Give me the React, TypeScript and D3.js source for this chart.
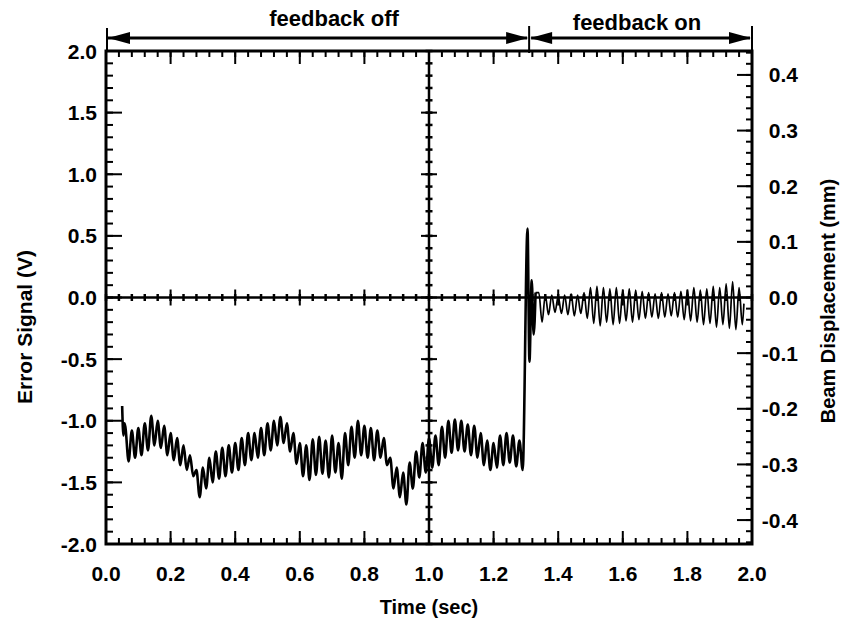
import React from 'react';
import * as d3 from 'd3';

const W = 843;
const H = 621;

// tick labels
const xTickLabels = ['0.0', '0.2', '0.4', '0.6', '0.8', '1.0', '1.2', '1.4', '1.6', '1.8', '2.0'];
const leftTickLabels = ['-2.0', '-1.5', '-1.0', '-0.5', '0.0', '0.5', '1.0', '1.5', '2.0'];
const rightTickLabels = ['-0.4', '-0.3', '-0.2', '-0.1', '0.0', '0.1', '0.2', '0.3', '0.4'];

// error signal (V): one peak + one trough per ~20 ms cycle
const leadIn: [number, number][] = [[0.05, -0.88], [0.054, -1.12], [0.057, -1.02]];
const offStart = 0.06;
const cycle = 0.02;
const offPeaks = [
  -1.05, -1.08, -1.06, -1.02, -0.96, -1.0, -1.04, -1.1, -1.14, -1.2,
  -1.28, -1.4, -1.38, -1.3, -1.25, -1.22, -1.2, -1.18, -1.14, -1.1,
  -1.1, -1.06, -1.02, -1.0, -0.97, -1.02, -1.1, -1.18, -1.2, -1.15,
  -1.13, -1.16, -1.12, -1.18, -1.1, -1.05, -1.0, -1.04, -1.06, -1.08,
  -1.14, -1.3, -1.38, -1.42, -1.34, -1.25, -1.18, -1.14, -1.12, -1.05,
  -1.0, -0.99, -1.0, -1.03, -1.04, -1.1, -1.16, -1.18, -1.12, -1.1,
  -1.12, -1.16,
];
const offTroughs = [
  -1.33, -1.3, -1.28, -1.24, -1.2, -1.22, -1.28, -1.32, -1.36, -1.4,
  -1.45, -1.62, -1.55, -1.5, -1.47, -1.45, -1.42, -1.4, -1.36, -1.32,
  -1.3, -1.28, -1.24, -1.2, -1.18, -1.25, -1.35, -1.45, -1.48, -1.44,
  -1.43, -1.46, -1.42, -1.47, -1.36, -1.3, -1.28, -1.3, -1.32, -1.3,
  -1.36, -1.55, -1.62, -1.68, -1.55, -1.46, -1.42, -1.38, -1.36, -1.3,
  -1.26, -1.24, -1.25, -1.28, -1.3, -1.36, -1.4, -1.38, -1.36, -1.34,
  -1.37, -1.4,
];
const transient: [number, number][] = [
  [1.305, 0.56], [1.311, -0.52], [1.318, 0.14], [1.324, -0.3], [1.33, 0.04],
];
const onStart = 1.34;
const onPeaks = [
  0.04, 0.02, 0.02, 0.01, 0.02, 0.03, 0.02, 0.04, 0.08, 0.09,
  0.08, 0.07, 0.08, 0.06, 0.07, 0.06, 0.05, 0.04, 0.03, 0.04,
  0.03, 0.04, 0.05, 0.06, 0.08, 0.06, 0.07, 0.09, 0.08, 0.11,
  0.13, 0.08,
];
const onTroughs = [
  -0.2, -0.14, -0.12, -0.13, -0.14, -0.15, -0.13, -0.17, -0.21, -0.23,
  -0.2, -0.22, -0.21, -0.19, -0.2, -0.18, -0.17, -0.16, -0.17, -0.16,
  -0.15, -0.16, -0.18, -0.19, -0.2, -0.22, -0.21, -0.24, -0.22, -0.25,
  -0.26, -0.22,
];
const tail: [number, number][] = [[1.975, -0.05]];

function cyclesToPoints(start: number, peaks: number[], troughs: number[]): [number, number][] {
  const pts: [number, number][] = [];
  peaks.forEach((p, i) => {
    pts.push([start + i * cycle, p]);
    pts.push([start + i * cycle + cycle / 2, troughs[i]]);
  });
  return pts;
}

const left = 106;
const right = 752;
const top = 51;
const bottom = 544;

const x = d3.scaleLinear().domain([0, 2]).range([left, right]);
const yL = d3.scaleLinear().domain([-2, 2]).range([bottom, top]);
const yR = d3.scaleLinear().domain([-0.443, 0.443]).range([bottom, top]);

const font = '"Liberation Sans", Arial, Helvetica, sans-serif';

export default function App() {
  const offPts = [...leadIn, ...cyclesToPoints(offStart, offPeaks, offTroughs), ...transient];
  const onPts = [transient[transient.length - 1], ...cyclesToPoints(onStart, onPeaks, onTroughs), ...tail];
  const line = d3
    .line<[number, number]>()
    .x((d) => x(d[0]))
    .y((d) => yL(d[1]))
    .curve(d3.curveMonotoneX);

  const xMinor = d3.range(0, 2.0001, 0.04);
  const xMajor = xTickLabels.map(Number);
  const lMinor = d3.range(-2, 2.0001, 0.1);
  const lMajor = leftTickLabels.map(Number);
  const rMinor = d3.range(-0.44, 0.4401, 0.02);
  const rMajor = rightTickLabels.map(Number);

  const tk = { stroke: '#000', strokeWidth: 2 };
  const zeroY = yL(0);
  const midX = x(1);

  const sepX = x(1.31);
  const arrowY = 38;
  const head = (x0: number, dir: number) =>
    `M${x0},${arrowY} L${x0 + dir * 22},${arrowY - 6} L${x0 + dir * 22},${arrowY + 6} Z`;

  return (
    <div style={{ position: 'absolute', left: 0, top: 0 }}>
      <svg width={W} height={H} style={{ display: 'block', background: '#fff' }}>
        {/* data */}
        <path d={line(offPts) || ''} fill="none" stroke="#000" strokeWidth={2.6} strokeLinejoin="round" />
        <path d={line(onPts) || ''} fill="none" stroke="#000" strokeWidth={1.7} strokeLinejoin="round" />

        {/* crosshair */}
        <line x1={left} x2={right} y1={zeroY} y2={zeroY} stroke="#000" strokeWidth={2.5} />
        <line x1={midX} x2={midX} y1={top} y2={bottom} stroke="#000" strokeWidth={2.5} />
        {xMinor.map((v) => (
          <line key={'cx' + v} x1={x(v)} x2={x(v)} y1={zeroY - 3.5} y2={zeroY + 3.5} {...tk} strokeWidth={2.5} />
        ))}
        {xMajor.map((v) => (
          <line key={'cX' + v} x1={x(v)} x2={x(v)} y1={zeroY - 8} y2={zeroY + 8} {...tk} />
        ))}
        {lMinor.map((v) => (
          <line key={'cy' + v} x1={midX - 3.5} x2={midX + 3.5} y1={yL(v)} y2={yL(v)} {...tk} strokeWidth={2.5} />
        ))}
        {lMajor.map((v) => (
          <line key={'cY' + v} x1={midX - 8} x2={midX + 8} y1={yL(v)} y2={yL(v)} {...tk} />
        ))}

        {/* frame */}
        <rect x={left} y={top} width={right - left} height={bottom - top} fill="none" stroke="#000" strokeWidth={3} />

        {/* bottom / top ticks */}
        {xMinor.map((v) => (
          <g key={'xm' + v}>
            <line x1={x(v)} x2={x(v)} y1={bottom} y2={bottom - 6} {...tk} />
            <line x1={x(v)} x2={x(v)} y1={top} y2={top + 6} {...tk} />
          </g>
        ))}
        {xMajor.map((v) => (
          <g key={'xM' + v}>
            <line x1={x(v)} x2={x(v)} y1={bottom} y2={bottom - 13} {...tk} />
            <line x1={x(v)} x2={x(v)} y1={top} y2={top + 13} {...tk} />
          </g>
        ))}
        {/* left ticks */}
        {lMinor.map((v) => (
          <line key={'lm' + v} x1={left} x2={left + 7} y1={yL(v)} y2={yL(v)} {...tk} />
        ))}
        {lMajor.map((v) => (
          <line key={'lM' + v} x1={left} x2={left + 16} y1={yL(v)} y2={yL(v)} {...tk} />
        ))}
        {/* right ticks */}
        {rMinor.map((v) => (
          <line key={'rm' + v} x1={right} x2={right - 6} y1={yR(v)} y2={yR(v)} {...tk} />
        ))}
        {rMajor.map((v) => (
          <line key={'rM' + v} x1={right} x2={right - 15} y1={yR(v)} y2={yR(v)} {...tk} />
        ))}

        {/* tick labels */}
        <g fontFamily={font} fontWeight="bold" fontSize={21} fill="#000">
          {xTickLabels.map((t) => (
            <text key={'xl' + t} x={x(+t)} y={581} textAnchor="middle">
              {t}
            </text>
          ))}
          {leftTickLabels.map((t) => (
            <text key={'ll' + t} x={97} y={yL(+t) + 7.5} textAnchor="end">
              {t}
            </text>
          ))}
          {rightTickLabels.map((t) => (
            <text key={'rl' + t} x={798} y={yR(+t) + 7.5} textAnchor="end">
              {t}
            </text>
          ))}
        </g>

        {/* axis titles */}
        <g fontFamily={font} fontWeight="bold" fill="#000">
          <text x={(left + right) / 2} y={614} textAnchor="middle" fontSize={20}>
            Time (sec)
          </text>
          <text transform={`translate(32,${327}) rotate(-90)`} textAnchor="middle" fontSize={21}>
            Error Signal (V)
          </text>
          <text transform={`translate(835,${301}) rotate(-90)`} textAnchor="middle" fontSize={20}>
            Beam Displacement (mm)
          </text>
          <text x={334} y={26} textAnchor="middle" fontSize={22}>
            feedback off
          </text>
          <text x={637} y={30} textAnchor="middle" fontSize={22}>
            feedback on
          </text>
        </g>

        {/* feedback arrows */}
        <g stroke="#000" strokeWidth={3}>
          <line x1={left + 2} x2={sepX - 2} y1={arrowY} y2={arrowY} />
          <line x1={sepX + 2} x2={right - 2} y1={arrowY} y2={arrowY} />
          <line x1={left + 1} x2={left + 1} y1={28} y2={top} strokeWidth={2} />
          <line x1={sepX} x2={sepX} y1={26} y2={top + 2} strokeWidth={2} />
          <line x1={right} x2={right} y1={26} y2={top} strokeWidth={2} />
        </g>
        <g fill="#000">
          <path d={head(left + 2, 1)} />
          <path d={head(sepX - 1, -1)} />
          <path d={head(sepX + 1, 1)} />
          <path d={head(right - 1, -1)} />
        </g>
      </svg>
    </div>
  );
}
